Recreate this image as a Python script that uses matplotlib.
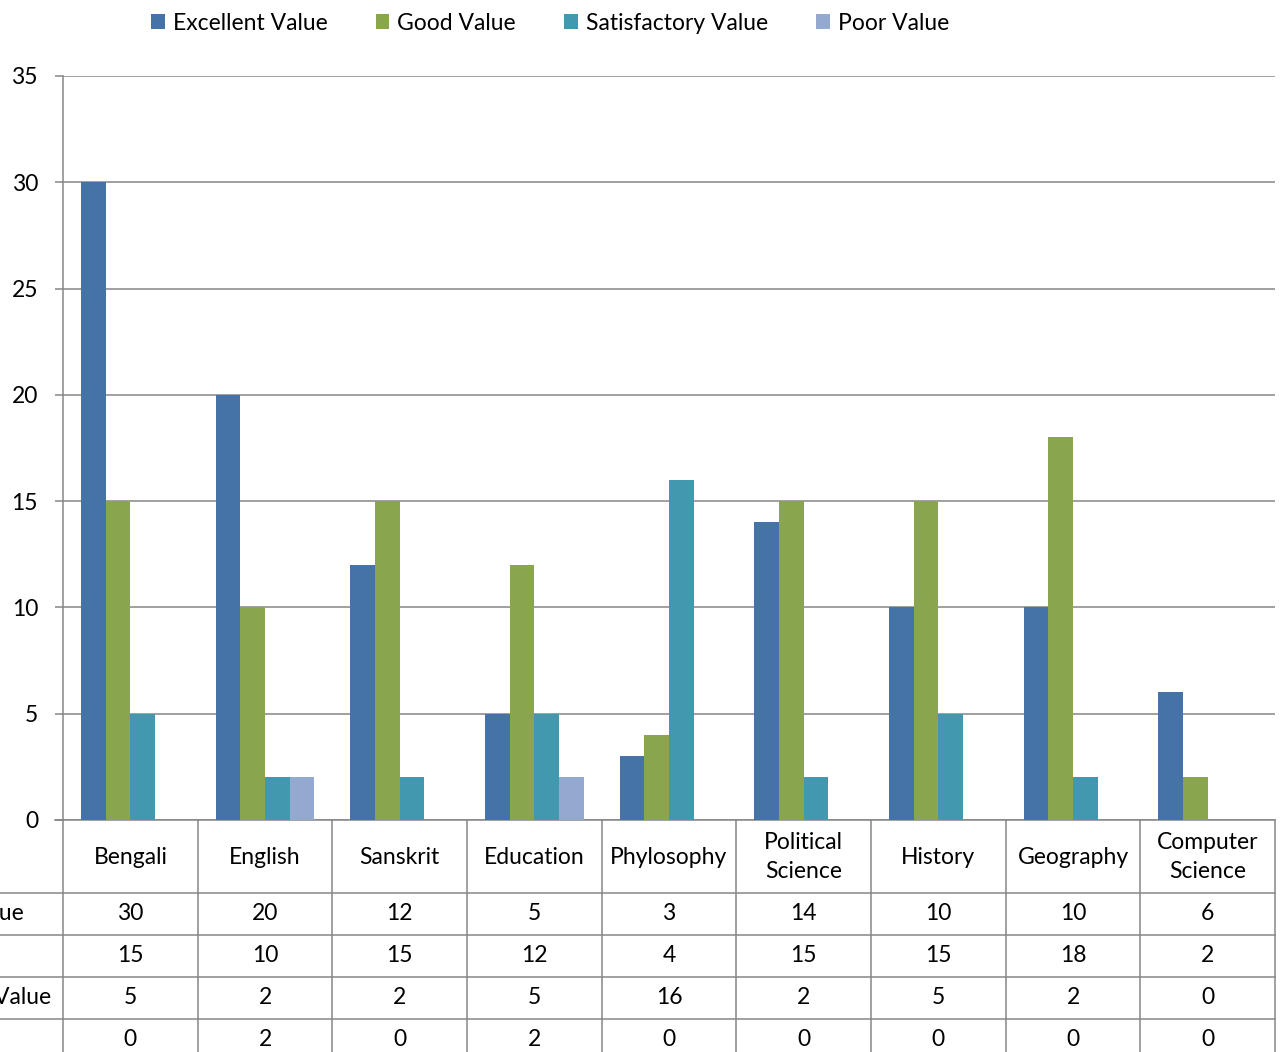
import matplotlib
matplotlib.use("Agg")
import matplotlib.pyplot as plt
import numpy as np
from matplotlib.transforms import blended_transform_factory
from matplotlib.patches import Patch

categories = ["Bengali", "English", "Sanskrit", "Education", "Phylosophy",
              "Political\nScience", "History", "Geography", "Computer\nScience"]
series_names = ["Excellent Value", "Good Value", "Satisfactory Value", "Poor Value"]
excellent = [30, 20, 12, 5, 3, 14, 10, 10, 6]
good = [15, 10, 15, 12, 4, 15, 15, 18, 2]
satisfactory = [5, 2, 2, 5, 16, 2, 5, 2, 0]
poor = [0, 2, 0, 2, 0, 0, 0, 0, 0]
series = [excellent, good, satisfactory, poor]
colors = ["#4572A7", "#89A54E", "#4198AF", "#93A9CF"]
yticks = [0, 5, 10, 15, 20, 25, 30, 35]

W, H = 1283, 1052
plt.rcParams['font.family'] = ['Lato', 'DejaVu Sans']
FS = 16.5
fig = plt.figure(figsize=(W / 100, H / 100), dpi=100)

L, R, T, B = 63, 1275, 76, 820
ax = fig.add_axes([L / W, 1 - B / H, (R - L) / W, (B - T) / H])
grid_c = "#868686"
x = np.arange(len(categories))
bw = 0.183
for i, (vals, c, name) in enumerate(zip(series, colors, series_names)):
    ax.bar(x + (i - 1.5) * bw, vals, width=bw, color=c, label=name, zorder=3, linewidth=0)
ax.set_xlim(-0.5, len(categories) - 0.5)
ax.set_ylim(0, 35)
ax.set_yticks(yticks)
ax.set_xticks([])
ax.yaxis.grid(True, color=grid_c, linewidth=1.1, zorder=0)
for s in ["top", "right"]:
    ax.spines[s].set_visible(False)
ax.spines["left"].set_color(grid_c)
ax.spines["bottom"].set_color(grid_c)
ax.spines["left"].set_linewidth(1.1)
ax.spines["bottom"].set_linewidth(1.1)
ax.tick_params(axis="y", length=6, width=1.1, color=grid_c, pad=12, labelsize=FS)

# overlay axes in pixel coords for the data table
tab = fig.add_axes([0, 0, 1, 1], zorder=5)
tab.set_xlim(0, W)
tab.set_ylim(H, 0)
tab.axis("off")
tab.patch.set_alpha(0)
bt = blended_transform_factory(ax.transData, tab.transData)

row_lines = [893, 935, 977, 1019]
row_centers = [914, 956, 998, 1039]
lw = 1.1
for k in range(len(categories) + 1):
    tab.plot([k - 0.5, k - 0.5], [B, H + 5], color=grid_c, lw=lw, transform=bt, clip_on=False)
for yl in row_lines:
    tab.plot([0, R], [yl, yl], color=grid_c, lw=lw, clip_on=False)
tab.plot([L - 8, L], [B, B], color=grid_c, lw=lw)

for k, cat in enumerate(categories):
    tab.text(k, 857, cat, transform=bt, ha="center", va="center", fontsize=FS,
             linespacing=1.45, clip_on=False)
    for r, vals in enumerate(series):
        tab.text(k, row_centers[r], str(vals[k]), transform=bt, ha="center",
                 va="center", fontsize=FS, clip_on=False)

# row labels: left-aligned, mostly beyond the left edge as in the reference
for r, name in enumerate(series_names):
    tab.text(-131, row_centers[r], name, ha="left", va="center", fontsize=FS)

handles = [Patch(facecolor=c, label=n) for c, n in zip(colors, series_names)]
fig.legend(handles=handles, loc="center", bbox_to_anchor=(550 / W, 1 - 23 / H),
           ncol=4, frameon=False, fontsize=FS, handlelength=0.6, handleheight=0.6,
           handletextpad=0.35, columnspacing=2.1)

fig.savefig("out.png", dpi=100)
